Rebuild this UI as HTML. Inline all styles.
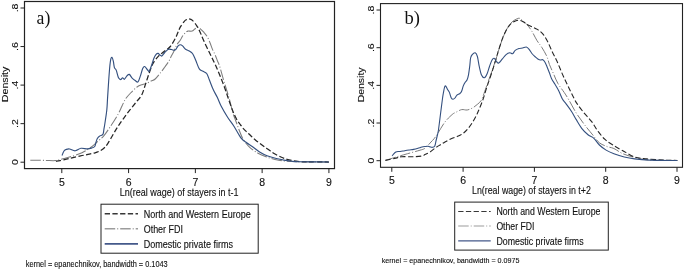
<!DOCTYPE html>
<html><head><meta charset="utf-8"><style>
html,body{margin:0;padding:0;background:#fff;}
svg{display:block;filter:blur(0.3px);}
.t{font-family:"Liberation Sans",sans-serif;fill:#111;stroke:#111;stroke-width:0.12px;}
.s{font-family:"Liberation Serif",serif;fill:#111;}
</style></head><body>
<svg width="685" height="270" viewBox="0 0 685 270">
<rect width="685" height="270" fill="#fff"/>
<clipPath id="cL"><rect x="24.5" y="1.5" width="310.0" height="167.1"/></clipPath>
<g clip-path="url(#cL)" fill="none" stroke-linejoin="round">
<path d="M30.30,160.20 C32.75,160.23 40.83,160.33 45.00,160.40 C49.17,160.47 52.47,160.85 55.30,160.60 C58.13,160.35 59.65,159.48 62.00,158.90 C64.35,158.32 66.07,158.12 69.40,157.10 C72.73,156.08 78.28,154.53 82.00,152.80 C85.72,151.07 89.20,148.50 91.70,146.70 C94.20,144.90 94.98,143.82 97.00,142.00 C99.02,140.18 101.40,138.63 103.80,135.80 C106.20,132.97 108.95,128.72 111.40,125.00 C113.85,121.28 116.73,116.67 118.50,113.50 C120.27,110.33 120.83,108.42 122.00,106.00 C123.17,103.58 124.07,101.17 125.50,99.00 C126.93,96.83 128.68,95.00 130.60,93.00 C132.52,91.00 135.00,88.42 137.00,87.00 C139.00,85.58 141.05,85.08 142.60,84.50 C144.15,83.92 144.88,84.08 146.30,83.50 C147.72,82.92 149.62,81.75 151.10,81.00 C152.58,80.25 153.53,80.50 155.20,79.00 C156.87,77.50 159.50,74.00 161.10,72.00 C162.70,70.00 163.43,68.92 164.80,67.00 C166.17,65.08 168.23,62.28 169.30,60.50 C170.37,58.72 170.45,57.80 171.20,56.30 C171.95,54.80 172.90,53.35 173.80,51.50 C174.70,49.65 175.50,47.12 176.60,45.20 C177.70,43.28 179.50,41.37 180.40,40.00 C181.30,38.63 181.43,37.93 182.00,37.00 C182.57,36.07 183.03,35.28 183.80,34.40 C184.57,33.52 185.87,32.25 186.60,31.70 C187.33,31.15 187.28,31.20 188.20,31.10 C189.12,31.00 191.08,31.38 192.10,31.10 C193.12,30.82 193.55,29.98 194.30,29.40 C195.05,28.82 195.95,27.97 196.60,27.60 C197.25,27.23 197.57,26.98 198.20,27.20 C198.83,27.42 199.47,28.07 200.40,28.90 C201.33,29.73 202.65,30.88 203.80,32.20 C204.95,33.52 206.23,34.97 207.30,36.80 C208.37,38.63 209.35,41.15 210.20,43.20 C211.05,45.25 211.53,47.05 212.40,49.10 C213.27,51.15 214.55,53.52 215.40,55.50 C216.25,57.48 216.80,59.23 217.50,61.00 C218.20,62.77 218.63,63.08 219.60,66.10 C220.57,69.12 222.12,75.08 223.30,79.10 C224.48,83.12 225.65,86.72 226.70,90.20 C227.75,93.68 228.58,96.27 229.60,100.00 C230.62,103.73 231.72,108.98 232.80,112.60 C233.88,116.22 234.98,118.63 236.10,121.70 C237.22,124.77 238.30,128.03 239.50,131.00 C240.70,133.97 241.55,136.73 243.30,139.50 C245.05,142.27 247.55,145.32 250.00,147.60 C252.45,149.88 255.33,151.67 258.00,153.20 C260.67,154.73 263.17,155.77 266.00,156.80 C268.83,157.83 271.83,158.70 275.00,159.40 C278.17,160.10 280.83,160.62 285.00,161.00 C289.17,161.38 292.68,161.53 300.00,161.70 C307.32,161.87 324.08,161.95 328.90,162.00" stroke="#7c7c7c" stroke-width="1.05" stroke-dasharray="10.5 2 1 2"/>
<path d="M55.90,161.30 C56.58,161.20 58.25,161.05 60.00,160.70 C61.75,160.35 64.40,159.67 66.40,159.20 C68.40,158.73 69.63,158.45 72.00,157.90 C74.37,157.35 77.93,156.48 80.60,155.90 C83.27,155.32 85.60,154.92 88.00,154.40 C90.40,153.88 92.90,153.43 95.00,152.80 C97.10,152.17 98.93,151.53 100.60,150.60 C102.27,149.67 103.62,148.68 105.00,147.20 C106.38,145.72 107.60,143.73 108.90,141.70 C110.20,139.67 111.60,137.05 112.80,135.00 C114.00,132.95 115.03,131.13 116.10,129.40 C117.17,127.67 118.12,126.20 119.20,124.60 C120.28,123.00 121.33,121.57 122.60,119.80 C123.87,118.03 125.32,115.97 126.80,114.00 C128.28,112.03 129.88,110.05 131.50,108.00 C133.12,105.95 134.80,103.87 136.50,101.70 C138.20,99.53 140.18,97.97 141.70,95.00 C143.22,92.03 144.33,87.60 145.60,83.90 C146.87,80.20 148.07,76.20 149.30,72.80 C150.53,69.40 151.47,66.28 153.00,63.50 C154.53,60.72 156.65,58.10 158.50,56.10 C160.35,54.10 162.13,53.10 164.10,51.50 C166.07,49.90 168.38,48.78 170.30,46.50 C172.22,44.22 174.32,40.18 175.60,37.80 C176.88,35.42 177.20,34.02 178.00,32.20 C178.80,30.38 179.35,28.72 180.40,26.90 C181.45,25.08 183.28,22.52 184.30,21.30 C185.32,20.08 185.75,20.00 186.50,19.60 C187.25,19.20 188.07,18.93 188.80,18.90 C189.53,18.87 190.25,19.12 190.90,19.40 C191.55,19.68 191.75,19.57 192.70,20.60 C193.65,21.63 195.40,23.75 196.60,25.60 C197.80,27.45 198.83,29.47 199.90,31.70 C200.97,33.93 201.77,36.23 203.00,39.00 C204.23,41.77 205.88,45.33 207.30,48.30 C208.72,51.27 210.07,53.83 211.50,56.80 C212.93,59.77 214.38,62.70 215.90,66.10 C217.42,69.50 219.05,73.33 220.60,77.20 C222.15,81.07 223.83,85.50 225.20,89.30 C226.57,93.10 227.75,96.97 228.80,100.00 C229.85,103.03 230.77,105.50 231.50,107.50 C232.23,109.50 232.62,110.57 233.20,112.00 C233.78,113.43 234.27,114.60 235.00,116.10 C235.73,117.60 236.67,119.52 237.60,121.00 C238.53,122.48 239.60,123.70 240.60,125.00 C241.60,126.30 242.50,127.58 243.60,128.80 C244.70,130.02 245.88,131.02 247.20,132.30 C248.52,133.58 250.05,135.15 251.50,136.50 C252.95,137.85 254.15,138.98 255.90,140.40 C257.65,141.82 259.98,143.52 262.00,145.00 C264.02,146.48 266.00,147.88 268.00,149.30 C270.00,150.72 271.85,152.22 274.00,153.50 C276.15,154.78 278.73,156.02 280.90,157.00 C283.07,157.98 284.83,158.75 287.00,159.40 C289.17,160.05 291.73,160.53 293.90,160.90 C296.07,161.27 297.98,161.43 300.00,161.60 C302.02,161.77 301.18,161.83 306.00,161.90 C310.82,161.97 325.08,161.98 328.90,162.00" stroke="#262626" stroke-width="1.25" stroke-dasharray="5.3 2.4"/>
<path d="M62.00,155.50 C62.33,154.75 63.27,152.02 64.00,151.00 C64.73,149.98 65.47,149.73 66.40,149.40 C67.33,149.07 68.13,148.77 69.60,149.00 C71.07,149.23 73.30,150.92 75.20,150.80 C77.10,150.68 79.00,148.62 81.00,148.30 C83.00,147.98 85.45,148.93 87.20,148.90 C88.95,148.87 90.25,148.50 91.50,148.10 C92.75,147.70 93.98,147.35 94.70,146.50 C95.42,145.65 95.38,144.28 95.80,143.00 C96.22,141.72 96.60,139.93 97.20,138.80 C97.80,137.67 98.57,136.83 99.40,136.20 C100.23,135.57 101.55,135.48 102.20,135.00 C102.85,134.52 103.02,134.23 103.30,133.30 C103.58,132.37 103.65,130.95 103.90,129.40 C104.15,127.85 104.32,127.23 104.80,124.00 C105.28,120.77 106.33,114.42 106.80,110.00 C107.27,105.58 107.18,103.80 107.60,97.50 C108.02,91.20 108.80,78.42 109.30,72.20 C109.80,65.98 110.15,62.67 110.60,60.20 C111.05,57.73 111.55,57.25 112.00,57.40 C112.45,57.55 112.90,59.40 113.30,61.10 C113.70,62.80 113.90,66.05 114.40,67.60 C114.90,69.15 115.62,68.70 116.30,70.40 C116.98,72.10 117.77,76.27 118.50,77.80 C119.23,79.33 120.02,79.60 120.70,79.60 C121.38,79.60 121.98,77.85 122.60,77.80 C123.22,77.75 123.68,79.62 124.40,79.30 C125.12,78.98 126.08,76.72 126.90,75.90 C127.72,75.08 128.47,74.08 129.30,74.40 C130.13,74.72 130.92,76.77 131.90,77.80 C132.88,78.83 134.18,79.92 135.20,80.60 C136.22,81.28 137.13,82.68 138.00,81.90 C138.87,81.12 139.62,78.13 140.40,75.90 C141.18,73.67 141.98,70.07 142.70,68.50 C143.42,66.93 143.88,66.25 144.70,66.50 C145.52,66.75 146.83,69.22 147.60,70.00 C148.37,70.78 148.62,72.03 149.30,71.20 C149.98,70.37 150.93,67.15 151.70,65.00 C152.47,62.85 153.17,60.07 153.90,58.30 C154.63,56.53 155.40,55.22 156.10,54.40 C156.80,53.58 157.45,53.30 158.10,53.40 C158.75,53.50 159.38,54.57 160.00,55.00 C160.62,55.43 161.07,56.33 161.80,56.00 C162.53,55.67 163.37,54.10 164.40,53.00 C165.43,51.90 166.82,49.98 168.00,49.40 C169.18,48.82 170.45,49.35 171.50,49.50 C172.55,49.65 173.57,50.32 174.30,50.30 C175.03,50.28 175.27,50.13 175.90,49.40 C176.53,48.67 177.35,46.68 178.10,45.90 C178.85,45.12 179.65,44.70 180.40,44.70 C181.15,44.70 181.73,45.15 182.60,45.90 C183.47,46.65 184.48,48.35 185.60,49.20 C186.72,50.05 188.15,50.28 189.30,51.00 C190.45,51.72 191.45,52.00 192.50,53.50 C193.55,55.00 194.47,57.43 195.60,60.00 C196.73,62.57 198.07,67.02 199.30,68.90 C200.53,70.78 201.77,70.53 203.00,71.30 C204.23,72.07 205.63,72.05 206.70,73.50 C207.77,74.95 208.33,77.37 209.40,80.00 C210.47,82.63 211.77,86.37 213.10,89.30 C214.43,92.23 216.07,94.82 217.40,97.60 C218.73,100.38 219.40,102.73 221.10,106.00 C222.80,109.27 225.43,113.78 227.60,117.20 C229.77,120.62 231.85,123.02 234.10,126.50 C236.35,129.98 239.00,135.38 241.10,138.10 C243.20,140.82 244.85,141.40 246.70,142.80 C248.55,144.20 250.05,144.97 252.20,146.50 C254.35,148.03 257.13,150.47 259.60,152.00 C262.07,153.53 264.22,154.62 267.00,155.70 C269.78,156.78 273.20,157.72 276.30,158.50 C279.40,159.28 283.03,159.93 285.60,160.40 C288.17,160.87 289.30,161.08 291.70,161.30 C294.10,161.52 293.80,161.58 300.00,161.70 C306.20,161.82 324.08,161.95 328.90,162.00" stroke="#34507f" stroke-width="1.15"/>
</g>
<rect x="24.5" y="1.5" width="310.0" height="167.1" fill="none" stroke="#222" stroke-width="1.2"/>
<line x1="61.80" y1="168.6" x2="61.80" y2="173.1" stroke="#222" stroke-width="1"/>
<text x="61.80" y="185.7" text-anchor="middle" class="t" font-size="10.5">5</text>
<line x1="128.58" y1="168.6" x2="128.58" y2="173.1" stroke="#222" stroke-width="1"/>
<text x="128.58" y="185.7" text-anchor="middle" class="t" font-size="10.5">6</text>
<line x1="195.36" y1="168.6" x2="195.36" y2="173.1" stroke="#222" stroke-width="1"/>
<text x="195.36" y="185.7" text-anchor="middle" class="t" font-size="10.5">7</text>
<line x1="262.14" y1="168.6" x2="262.14" y2="173.1" stroke="#222" stroke-width="1"/>
<text x="262.14" y="185.7" text-anchor="middle" class="t" font-size="10.5">8</text>
<line x1="328.92" y1="168.6" x2="328.92" y2="173.1" stroke="#222" stroke-width="1"/>
<text x="328.92" y="185.7" text-anchor="middle" class="t" font-size="10.5">9</text>
<line x1="20.5" y1="162.20" x2="24.5" y2="162.20" stroke="#222" stroke-width="1"/>
<text transform="translate(18.0,162.20) scale(0.95,1) rotate(-90)" text-anchor="middle" class="t" font-size="10.5">0</text>
<line x1="20.5" y1="123.65" x2="24.5" y2="123.65" stroke="#222" stroke-width="1"/>
<text transform="translate(18.0,123.65) scale(0.95,1) rotate(-90)" text-anchor="middle" class="t" font-size="10.5">.2</text>
<line x1="20.5" y1="85.10" x2="24.5" y2="85.10" stroke="#222" stroke-width="1"/>
<text transform="translate(18.0,85.10) scale(0.95,1) rotate(-90)" text-anchor="middle" class="t" font-size="10.5">.4</text>
<line x1="20.5" y1="46.55" x2="24.5" y2="46.55" stroke="#222" stroke-width="1"/>
<text transform="translate(18.0,46.55) scale(0.95,1) rotate(-90)" text-anchor="middle" class="t" font-size="10.5">.6</text>
<line x1="20.5" y1="8.00" x2="24.5" y2="8.00" stroke="#222" stroke-width="1"/>
<text transform="translate(18.0,8.00) scale(0.95,1) rotate(-90)" text-anchor="middle" class="t" font-size="10.5">.8</text>
<text transform="translate(8.1,84.45) scale(0.88,1) rotate(-90)" text-anchor="middle" class="t" font-size="10.5" textLength="35.6" lengthAdjust="spacingAndGlyphs">Density</text>
<text x="119.8" y="196.3" class="t" font-size="10.5" textLength="118.8" lengthAdjust="spacingAndGlyphs">Ln(real wage) of stayers in t-1</text>
<text transform="translate(36.6,23.9) scale(0.955,1)" class="s" font-size="18.5">a)</text>
<rect x="101.0" y="204.2" width="157.2" height="49.0" fill="none" stroke="#222" stroke-width="1"/>
<line x1="104.7" y1="213.8" x2="138.0" y2="213.8" stroke="#383838" stroke-width="1.6" stroke-dasharray="5.3 2.4"/>
<text x="143.7" y="218.1" class="t" font-size="10.2" textLength="107.0" lengthAdjust="spacingAndGlyphs">North and Western Europe</text>
<line x1="104.7" y1="228.7" x2="138.0" y2="228.7" stroke="#9c9c9c" stroke-width="1.4" stroke-dasharray="10.5 2 1 2"/>
<text x="143.7" y="232.6" class="t" font-size="10.2" textLength="39.3" lengthAdjust="spacingAndGlyphs">Other FDI</text>
<line x1="104.7" y1="243.9" x2="138.0" y2="243.9" stroke="#44598a" stroke-width="1.7" stroke-dasharray="none"/>
<text x="143.7" y="247.9" class="t" font-size="10.2" textLength="89.3" lengthAdjust="spacingAndGlyphs">Domestic private firms</text>
<text x="25.8" y="266.8" class="t" font-size="8.5" textLength="141.89999999999998" lengthAdjust="spacingAndGlyphs">kernel = epanechnikov, bandwidth = 0.1043</text>
<clipPath id="cR"><rect x="380.5" y="3.6" width="302.0" height="163.70000000000002"/></clipPath>
<g clip-path="url(#cR)" fill="none" stroke-linejoin="round">
<path d="M385.40,160.40 C387.38,159.78 393.60,157.82 397.30,156.70 C401.00,155.58 403.82,154.78 407.60,153.70 C411.38,152.62 417.18,151.05 420.00,150.20 C422.82,149.35 423.17,149.42 424.50,148.60 C425.83,147.78 426.92,146.40 428.00,145.30 C429.08,144.20 430.00,143.08 431.00,142.00 C432.00,140.92 432.93,140.13 434.00,138.80 C435.07,137.47 435.60,136.77 437.40,134.00 C439.20,131.23 442.33,125.45 444.80,122.20 C447.27,118.95 450.32,116.17 452.20,114.50 C454.08,112.83 454.52,113.02 456.10,112.20 C457.68,111.38 459.85,109.97 461.70,109.60 C463.55,109.23 465.35,110.30 467.20,110.00 C469.05,109.70 471.13,108.72 472.80,107.80 C474.47,106.88 475.80,105.72 477.20,104.50 C478.60,103.28 480.07,102.33 481.20,100.50 C482.33,98.67 482.87,96.58 484.00,93.50 C485.13,90.42 486.67,85.75 488.00,82.00 C489.33,78.25 490.67,74.83 492.00,71.00 C493.33,67.17 494.67,63.17 496.00,59.00 C497.33,54.83 498.67,50.00 500.00,46.00 C501.33,42.00 502.67,38.17 504.00,35.00 C505.33,31.83 506.67,29.17 508.00,27.00 C509.33,24.83 510.67,23.28 512.00,22.00 C513.33,20.72 514.70,19.92 516.00,19.30 C517.30,18.68 518.55,17.93 519.80,18.30 C521.05,18.67 522.27,20.42 523.50,21.50 C524.73,22.58 525.80,23.17 527.20,24.80 C528.60,26.43 530.27,28.67 531.90,31.30 C533.53,33.93 535.37,37.95 537.00,40.60 C538.63,43.25 540.08,44.62 541.70,47.20 C543.32,49.78 545.42,53.23 546.70,56.10 C547.98,58.97 548.30,61.53 549.40,64.40 C550.50,67.27 551.90,70.15 553.30,73.30 C554.70,76.45 555.97,80.08 557.80,83.30 C559.63,86.52 562.45,89.82 564.30,92.60 C566.15,95.38 566.93,96.63 568.90,100.00 C570.87,103.37 573.60,108.82 576.10,112.80 C578.60,116.78 581.12,120.20 583.90,123.90 C586.68,127.60 590.22,131.85 592.80,135.00 C595.38,138.15 597.00,140.87 599.40,142.80 C601.80,144.73 604.78,145.65 607.20,146.60 C609.62,147.55 611.30,147.32 613.90,148.50 C616.50,149.68 619.35,152.22 622.80,153.70 C626.25,155.18 630.23,156.35 634.60,157.40 C638.97,158.45 641.88,159.48 649.00,160.00 C656.12,160.52 672.58,160.42 677.30,160.50" stroke="#7c7c7c" stroke-width="1.0" stroke-dasharray="10.5 2 1 2"/>
<path d="M385.40,160.40 C387.13,160.02 393.08,158.72 395.80,158.10 C398.52,157.48 398.73,156.93 401.70,156.70 C404.67,156.47 410.15,156.83 413.60,156.70 C417.05,156.57 420.50,156.25 422.40,155.90 C424.30,155.55 423.73,155.25 425.00,154.60 C426.27,153.95 428.33,153.07 430.00,152.00 C431.67,150.93 433.33,149.37 435.00,148.20 C436.67,147.03 438.33,146.03 440.00,145.00 C441.67,143.97 443.05,143.10 445.00,142.00 C446.95,140.90 449.48,139.38 451.70,138.40 C453.92,137.42 456.27,137.03 458.30,136.10 C460.33,135.17 462.23,134.10 463.90,132.80 C465.57,131.50 466.92,129.97 468.30,128.30 C469.68,126.63 470.90,124.83 472.20,122.80 C473.50,120.77 475.03,118.15 476.10,116.10 C477.17,114.05 477.48,113.18 478.60,110.50 C479.72,107.82 481.45,103.83 482.80,100.00 C484.15,96.17 485.28,91.82 486.70,87.50 C488.12,83.18 489.77,78.80 491.30,74.10 C492.83,69.40 494.67,63.35 495.90,59.30 C497.13,55.25 497.62,53.23 498.70,49.80 C499.78,46.37 501.17,41.93 502.40,38.70 C503.63,35.47 504.87,32.72 506.10,30.40 C507.33,28.08 508.60,26.20 509.80,24.80 C511.00,23.40 511.93,22.77 513.30,22.00 C514.67,21.23 516.45,20.28 518.00,20.20 C519.55,20.12 521.07,20.80 522.60,21.50 C524.13,22.20 525.65,23.53 527.20,24.40 C528.75,25.27 530.20,25.87 531.90,26.70 C533.60,27.53 535.55,28.17 537.40,29.40 C539.25,30.63 541.30,32.08 543.00,34.10 C544.70,36.12 546.07,38.57 547.60,41.50 C549.13,44.43 550.65,48.43 552.20,51.70 C553.75,54.97 555.20,57.37 556.90,61.10 C558.60,64.83 560.55,69.93 562.40,74.10 C564.25,78.27 566.00,81.93 568.00,86.10 C570.00,90.27 572.87,96.13 574.40,99.10 C575.93,102.07 575.62,101.62 577.20,103.90 C578.78,106.18 581.48,109.83 583.90,112.80 C586.32,115.77 589.30,118.55 591.70,121.70 C594.10,124.85 596.08,128.75 598.30,131.70 C600.52,134.65 602.58,137.18 605.00,139.40 C607.42,141.62 609.83,143.12 612.80,145.00 C615.77,146.88 619.17,148.70 622.80,150.70 C626.43,152.70 630.65,155.63 634.60,157.00 C638.55,158.37 641.55,158.38 646.50,158.90 C651.45,159.42 659.17,159.83 664.30,160.10 C669.43,160.37 675.13,160.43 677.30,160.50" stroke="#262626" stroke-width="1.1" stroke-dasharray="5.3 2.4"/>
<path d="M392.10,155.90 C392.72,155.23 394.45,152.63 395.80,151.90 C397.15,151.17 398.72,151.70 400.20,151.50 C401.68,151.30 403.22,150.95 404.70,150.70 C406.18,150.45 407.62,150.22 409.10,150.00 C410.58,149.78 412.12,149.68 413.60,149.40 C415.08,149.12 416.85,148.63 418.00,148.30 C419.15,147.97 419.67,147.67 420.50,147.40 C421.33,147.13 422.08,146.85 423.00,146.70 C423.92,146.55 425.17,146.58 426.00,146.50 C426.83,146.42 427.33,146.13 428.00,146.20 C428.67,146.27 429.25,146.72 430.00,146.90 C430.75,147.08 431.70,147.45 432.50,147.30 C433.30,147.15 434.20,147.13 434.80,146.00 C435.40,144.87 435.68,142.25 436.10,140.50 C436.52,138.75 436.93,137.08 437.30,135.50 C437.67,133.92 437.93,133.25 438.30,131.00 C438.67,128.75 439.12,124.95 439.50,122.00 C439.88,119.05 440.13,116.97 440.60,113.30 C441.07,109.63 441.90,103.02 442.30,100.00 C442.70,96.98 442.65,97.23 443.00,95.20 C443.35,93.17 443.95,89.35 444.40,87.80 C444.85,86.25 445.17,85.60 445.70,85.90 C446.23,86.20 446.98,88.52 447.60,89.60 C448.22,90.68 448.78,91.00 449.40,92.40 C450.02,93.80 450.68,96.85 451.30,98.00 C451.92,99.15 452.48,99.30 453.10,99.30 C453.72,99.30 454.37,98.68 455.00,98.00 C455.63,97.32 456.13,95.92 456.90,95.20 C457.67,94.48 458.83,94.32 459.60,93.70 C460.37,93.08 460.88,92.80 461.50,91.50 C462.12,90.20 462.68,87.45 463.30,85.90 C463.92,84.35 464.58,83.18 465.20,82.20 C465.82,81.22 466.45,81.23 467.00,80.00 C467.55,78.77 468.03,77.20 468.50,74.80 C468.97,72.40 469.45,68.40 469.80,65.60 C470.15,62.80 470.20,59.83 470.60,58.00 C471.00,56.17 471.43,55.47 472.20,54.60 C472.97,53.73 474.33,52.48 475.20,52.80 C476.07,53.12 476.72,54.18 477.40,56.50 C478.08,58.82 478.62,63.62 479.30,66.70 C479.98,69.78 480.65,73.15 481.50,75.00 C482.35,76.85 483.48,77.95 484.40,77.80 C485.32,77.65 486.17,75.95 487.00,74.10 C487.83,72.25 488.58,69.02 489.40,66.70 C490.22,64.38 491.12,61.60 491.90,60.20 C492.68,58.80 493.27,58.00 494.10,58.30 C494.93,58.60 496.13,61.22 496.90,62.00 C497.67,62.78 497.78,63.52 498.70,63.00 C499.62,62.48 501.17,60.30 502.40,58.90 C503.63,57.50 504.87,55.62 506.10,54.60 C507.33,53.58 508.72,52.95 509.80,52.80 C510.88,52.65 511.70,54.10 512.60,53.70 C513.50,53.30 514.15,51.27 515.20,50.40 C516.25,49.53 517.67,48.90 518.90,48.50 C520.13,48.10 521.37,48.25 522.60,48.00 C523.83,47.75 525.22,46.78 526.30,47.00 C527.38,47.22 528.17,48.22 529.10,49.30 C530.03,50.38 530.82,52.18 531.90,53.50 C532.98,54.82 534.62,56.30 535.60,57.20 C536.58,58.10 536.97,58.43 537.80,58.90 C538.63,59.37 539.77,59.87 540.60,60.00 C541.43,60.13 542.07,59.33 542.80,59.70 C543.53,60.07 544.27,60.95 545.00,62.20 C545.73,63.45 546.47,65.43 547.20,67.20 C547.93,68.97 548.67,70.88 549.40,72.80 C550.13,74.72 550.67,76.78 551.60,78.70 C552.53,80.62 553.82,82.30 555.00,84.30 C556.18,86.30 557.47,88.23 558.70,90.70 C559.93,93.17 561.17,96.90 562.40,99.10 C563.63,101.30 564.55,101.80 566.10,103.90 C567.65,106.00 570.03,109.12 571.70,111.70 C573.37,114.28 574.43,116.63 576.10,119.40 C577.77,122.17 579.67,125.70 581.70,128.30 C583.73,130.90 586.27,133.33 588.30,135.00 C590.33,136.67 592.05,136.63 593.90,138.30 C595.75,139.97 597.37,143.03 599.40,145.00 C601.43,146.97 603.68,148.65 606.10,150.10 C608.52,151.55 610.87,152.55 613.90,153.70 C616.93,154.85 620.85,156.13 624.30,157.00 C627.75,157.87 630.42,158.38 634.60,158.90 C638.78,159.42 642.28,159.83 649.40,160.10 C656.52,160.37 672.65,160.43 677.30,160.50" stroke="#34507f" stroke-width="1.1"/>
</g>
<rect x="380.5" y="3.6" width="302.0" height="163.70000000000002" fill="none" stroke="#222" stroke-width="1.1"/>
<line x1="391.80" y1="167.3" x2="391.80" y2="171.8" stroke="#222" stroke-width="1"/>
<text x="391.80" y="184.0" text-anchor="middle" class="t" font-size="10.5">5</text>
<line x1="463.10" y1="167.3" x2="463.10" y2="171.8" stroke="#222" stroke-width="1"/>
<text x="463.10" y="184.0" text-anchor="middle" class="t" font-size="10.5">6</text>
<line x1="534.40" y1="167.3" x2="534.40" y2="171.8" stroke="#222" stroke-width="1"/>
<text x="534.40" y="184.0" text-anchor="middle" class="t" font-size="10.5">7</text>
<line x1="605.70" y1="167.3" x2="605.70" y2="171.8" stroke="#222" stroke-width="1"/>
<text x="605.70" y="184.0" text-anchor="middle" class="t" font-size="10.5">8</text>
<line x1="677.00" y1="167.3" x2="677.00" y2="171.8" stroke="#222" stroke-width="1"/>
<text x="677.00" y="184.0" text-anchor="middle" class="t" font-size="10.5">9</text>
<line x1="376.5" y1="160.70" x2="380.5" y2="160.70" stroke="#222" stroke-width="1"/>
<text transform="translate(373.9,160.70) scale(0.95,1) rotate(-90)" text-anchor="middle" class="t" font-size="10.5">0</text>
<line x1="376.5" y1="123.03" x2="380.5" y2="123.03" stroke="#222" stroke-width="1"/>
<text transform="translate(373.9,123.03) scale(0.95,1) rotate(-90)" text-anchor="middle" class="t" font-size="10.5">.2</text>
<line x1="376.5" y1="85.36" x2="380.5" y2="85.36" stroke="#222" stroke-width="1"/>
<text transform="translate(373.9,85.36) scale(0.95,1) rotate(-90)" text-anchor="middle" class="t" font-size="10.5">.4</text>
<line x1="376.5" y1="47.69" x2="380.5" y2="47.69" stroke="#222" stroke-width="1"/>
<text transform="translate(373.9,47.69) scale(0.95,1) rotate(-90)" text-anchor="middle" class="t" font-size="10.5">.6</text>
<line x1="376.5" y1="10.02" x2="380.5" y2="10.02" stroke="#222" stroke-width="1"/>
<text transform="translate(373.9,10.02) scale(0.95,1) rotate(-90)" text-anchor="middle" class="t" font-size="10.5">.8</text>
<text transform="translate(364.0,84.9) scale(0.88,1) rotate(-90)" text-anchor="middle" class="t" font-size="10.5" textLength="34.9" lengthAdjust="spacingAndGlyphs">Density</text>
<text x="472.0" y="194.2" class="t" font-size="10.5" textLength="118.79999999999995" lengthAdjust="spacingAndGlyphs">Ln(real wage) of stayers in t+2</text>
<text transform="translate(404.5,23.9) scale(1.0,1)" class="s" font-size="18.5">b)</text>
<rect x="454.7" y="202.1" width="153.59999999999997" height="48.0" fill="none" stroke="#222" stroke-width="1"/>
<line x1="458.2" y1="211.5" x2="490.7" y2="211.5" stroke="#383838" stroke-width="1.15" stroke-dasharray="5.3 2.4"/>
<text x="496.4" y="215.4" class="t" font-size="10.2" textLength="104.0" lengthAdjust="spacingAndGlyphs">North and Western Europe</text>
<line x1="458.2" y1="226.0" x2="490.7" y2="226.0" stroke="#9c9c9c" stroke-width="1.2" stroke-dasharray="10.5 2 1 2"/>
<text x="496.4" y="230.0" class="t" font-size="10.2" textLength="38.0" lengthAdjust="spacingAndGlyphs">Other FDI</text>
<line x1="458.2" y1="240.8" x2="490.7" y2="240.8" stroke="#44598a" stroke-width="1.15" stroke-dasharray="none"/>
<text x="496.4" y="244.5" class="t" font-size="10.2" textLength="87.2" lengthAdjust="spacingAndGlyphs">Domestic private firms</text>
<text x="381.7" y="263.2" class="t" font-size="8.0" textLength="137.8" lengthAdjust="spacingAndGlyphs">kernel = epanechnikov, bandwidth = 0.0975</text>
</svg>
</body></html>
